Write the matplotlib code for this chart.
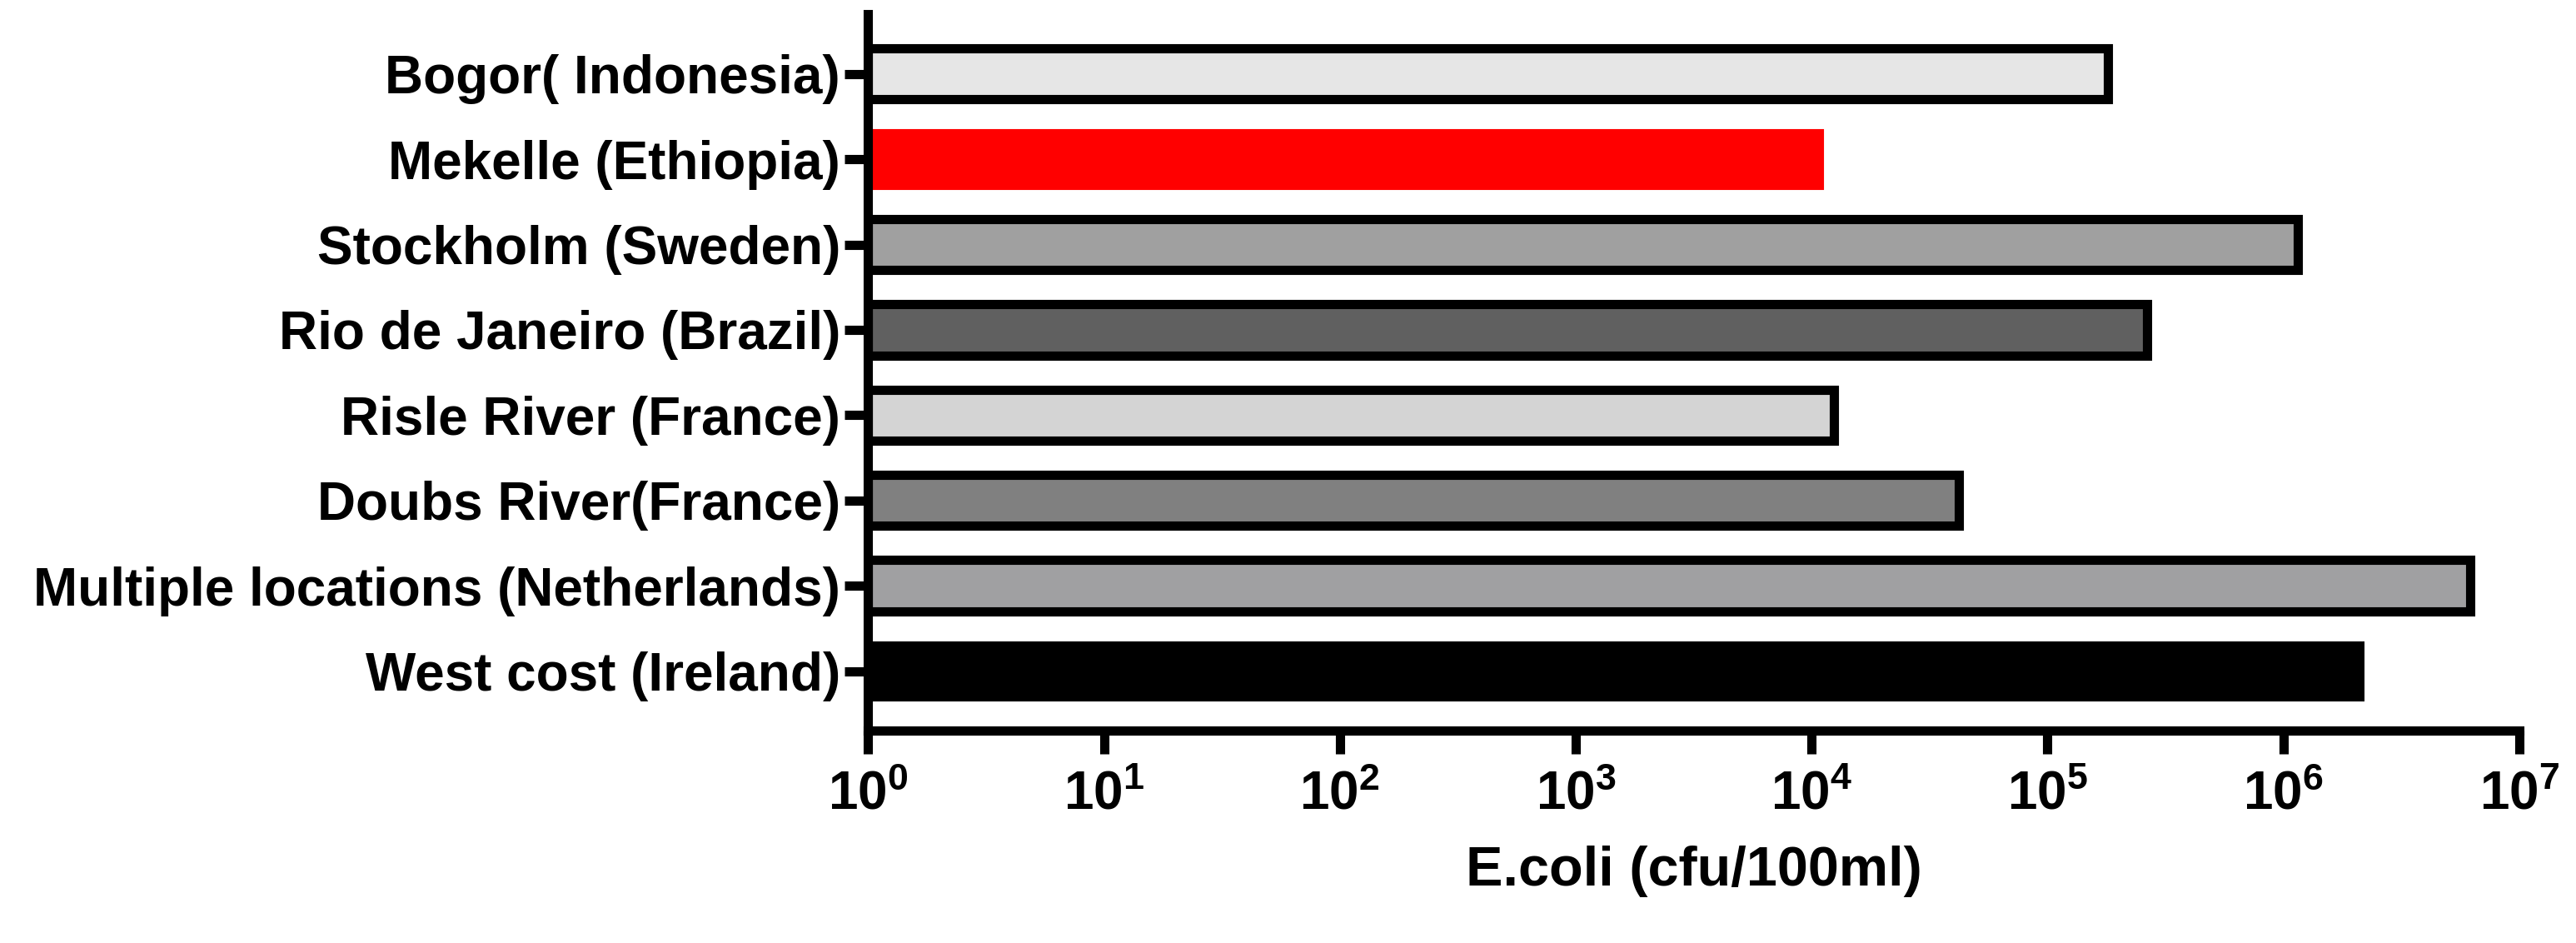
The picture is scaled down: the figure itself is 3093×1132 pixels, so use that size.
import matplotlib
matplotlib.use("Agg")
import matplotlib.pyplot as plt

plt.rcParams['font.family'] = ['Liberation Sans', 'DejaVu Sans']
plt.rcParams['font.weight'] = 'bold'

# DATA (top to bottom)
locations = ["Bogor( Indonesia)", "Mekelle (Ethiopia)", "Stockholm (Sweden)",
             "Rio de Janeiro (Brazil)", "Risle River (France)", "Doubs River(France)",
             "Multiple locations (Netherlands)", "West cost (Ireland)"]
ecoli = [1.8e5, 1.07e4, 1.15e6, 2.65e5, 1.24e4, 4.2e4, 6.2e6, 2.1e6]
colors = ["#e6e6e6", "#ff0000", "#a0a0a0", "#606060", "#d4d4d4", "#808080", "#a0a0a2", "#000000"]
edges = ["black", "#ff0000", "black", "black", "black", "black", "black", "black"]

fig = plt.figure(figsize=(30.93, 11.32), dpi=100)
ax = fig.add_axes([0.337, 0.225, 0.641, 0.76])

ypos = list(range(len(locations)))[::-1]
ax.barh(ypos, ecoli, left=1, height=0.6, color=colors, edgecolor=edges, linewidth=8)
ax.set_xscale('log')
ax.set_xlim(1, 1e7)
ax.set_ylim(-0.7, 7.7)
ax.set_yticks(ypos)
ax.set_yticklabels(locations)
ax.set_xticks([10**i for i in range(8)])
ax.minorticks_off()
ax.tick_params(axis='both', labelsize=46, width=8, length=20, direction='out')
ax.tick_params(axis='y', pad=4)
ax.tick_params(axis='x', pad=14)
for lbl in ax.get_xticklabels() + ax.get_yticklabels():
    lbl.set_fontweight('bold')
ax.spines['top'].set_visible(False)
ax.spines['right'].set_visible(False)
ax.spines['left'].set_linewidth(8)
ax.spines['bottom'].set_linewidth(8)
ax.set_xlabel("E.coli (cfu/100ml)", fontsize=48, fontweight='bold', labelpad=22)

fig.savefig("out.png", dpi=100)
